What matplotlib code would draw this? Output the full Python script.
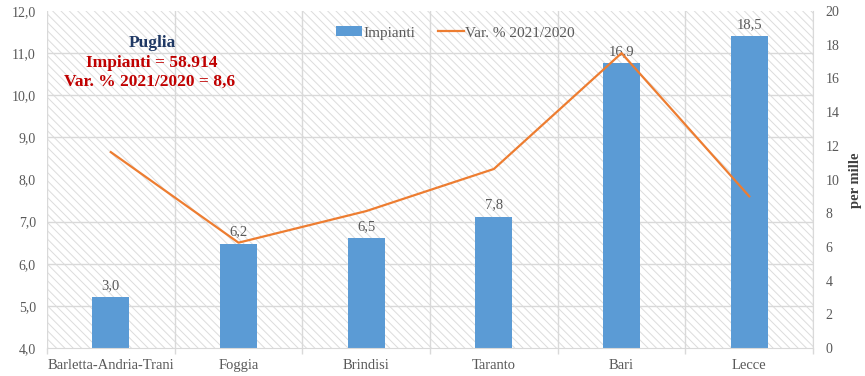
import matplotlib
matplotlib.use("Agg")
import matplotlib.pyplot as plt
from matplotlib.patches import Rectangle, Patch
from matplotlib.lines import Line2D
from matplotlib.ticker import MultipleLocator, FuncFormatter, FixedLocator

plt.rcParams["font.family"] = ["Liberation Serif", "DejaVu Serif"]
plt.rcParams["hatch.linewidth"] = 0.7

province = ["Barletta-Andria-Trani", "Foggia", "Brindisi", "Taranto", "Bari", "Lecce"]
impianti = [3.0, 6.2, 6.5, 7.8, 16.9, 18.5]       # per mille, right axis
var_pct = [8.65, 6.5, 7.25, 8.25, 11.0, 7.6]        # Var. % 2021/2020, left axis

grey = "#595959"
gridc = "#D9D9D9"

fig = plt.figure(figsize=(8.65, 3.76), dpi=100)
ax = fig.add_axes([0.0543, 0.0745, 0.8857, 0.8962])
ax2 = ax.twinx()

# hatched plot background
bg = Rectangle((0, 0), 1, 1, transform=ax.transAxes, facecolor="white",
               edgecolor="#DCDCDC", hatch="\\\\\\\\", linewidth=0, zorder=0)
ax.add_patch(bg)

x = list(range(len(province)))
bars = ax.bar(x, impianti, width=0.29, color="#5B9BD5", zorder=2)
ax.bar_label(bars, labels=[f"{v:.1f}".replace(".", ",") for v in impianti],
             padding=4, color=grey, fontsize=10.5)

ax.set_xlim(-0.5, len(province) - 0.5)
ax.set_ylim(0, 20)
ax.yaxis.tick_right()
ax.yaxis.set_major_locator(MultipleLocator(2))
ax.yaxis.set_minor_locator(MultipleLocator(2.5))
ax.tick_params(axis="y", which="both", length=0, labelsize=10, labelcolor=grey, pad=9)
fig.text(855 / 865, 1 - 180 / 376, "per mille", rotation=90, ha="center", va="center",
         color="#404040", fontsize=10.5, fontweight="bold")

ax.set_xticks(x)
ax.set_xticklabels(province)
ax.xaxis.set_minor_locator(FixedLocator([i - 0.5 for i in range(len(province) + 1)]))
ax.tick_params(axis="x", which="major", length=0, labelsize=10.5, labelcolor=grey, pad=8)
ax.tick_params(axis="x", which="minor", length=4, color=gridc, width=1)

ax.set_axisbelow(True)
ax.grid(which="minor", axis="both", color=gridc, linewidth=1)
ax.grid(which="major", axis="both", visible=False)
for s in ["top", "left"]:
    ax.spines[s].set_visible(False)
for s in ["bottom", "right"]:
    ax.spines[s].set_color(gridc)

# variation line on the left scale
ax2.plot(x, var_pct, color="#ED7D31", linewidth=1.6, zorder=3)
ax2.set_ylim(4, 12)
ax2.yaxis.tick_left()
ax2.yaxis.set_major_locator(MultipleLocator(1))
ax2.yaxis.set_major_formatter(FuncFormatter(lambda v, p: f"{v:.1f}".replace(".", ",")))
ax2.tick_params(axis="y", length=0, labelsize=10, labelcolor=grey, pad=8)
for s in ax2.spines.values():
    s.set_visible(False)

handles = [Patch(facecolor="#5B9BD5", edgecolor="none"),
           Line2D([0], [0], color="#ED7D31", linewidth=1.6)]
leg = ax2.legend(handles, ["Impianti", "Var. % 2021/2020"], loc="center",
                 bbox_to_anchor=(0.533, 0.935), ncol=2, frameon=False,
                 fontsize=11, handlelength=1.7, handleheight=0.65,
                 columnspacing=1.5, handletextpad=0.1)
for t in leg.get_texts():
    t.set_color(grey)

ax2.text(0.137, 0.905, "Puglia", transform=ax2.transAxes, ha="center", va="center",
         fontsize=12.5, fontweight="bold", color="#1F3864")
ax2.text(0.137, 0.846, "Impianti = 58.914", transform=ax2.transAxes, ha="center",
         va="center", fontsize=12.5, fontweight="bold", color="#C00000")
ax2.text(0.134, 0.789, "Var. % 2021/2020 = 8,6", transform=ax2.transAxes, ha="center",
         va="center", fontsize=12.5, fontweight="bold", color="#C00000")

fig.savefig("out.png", dpi=100)
